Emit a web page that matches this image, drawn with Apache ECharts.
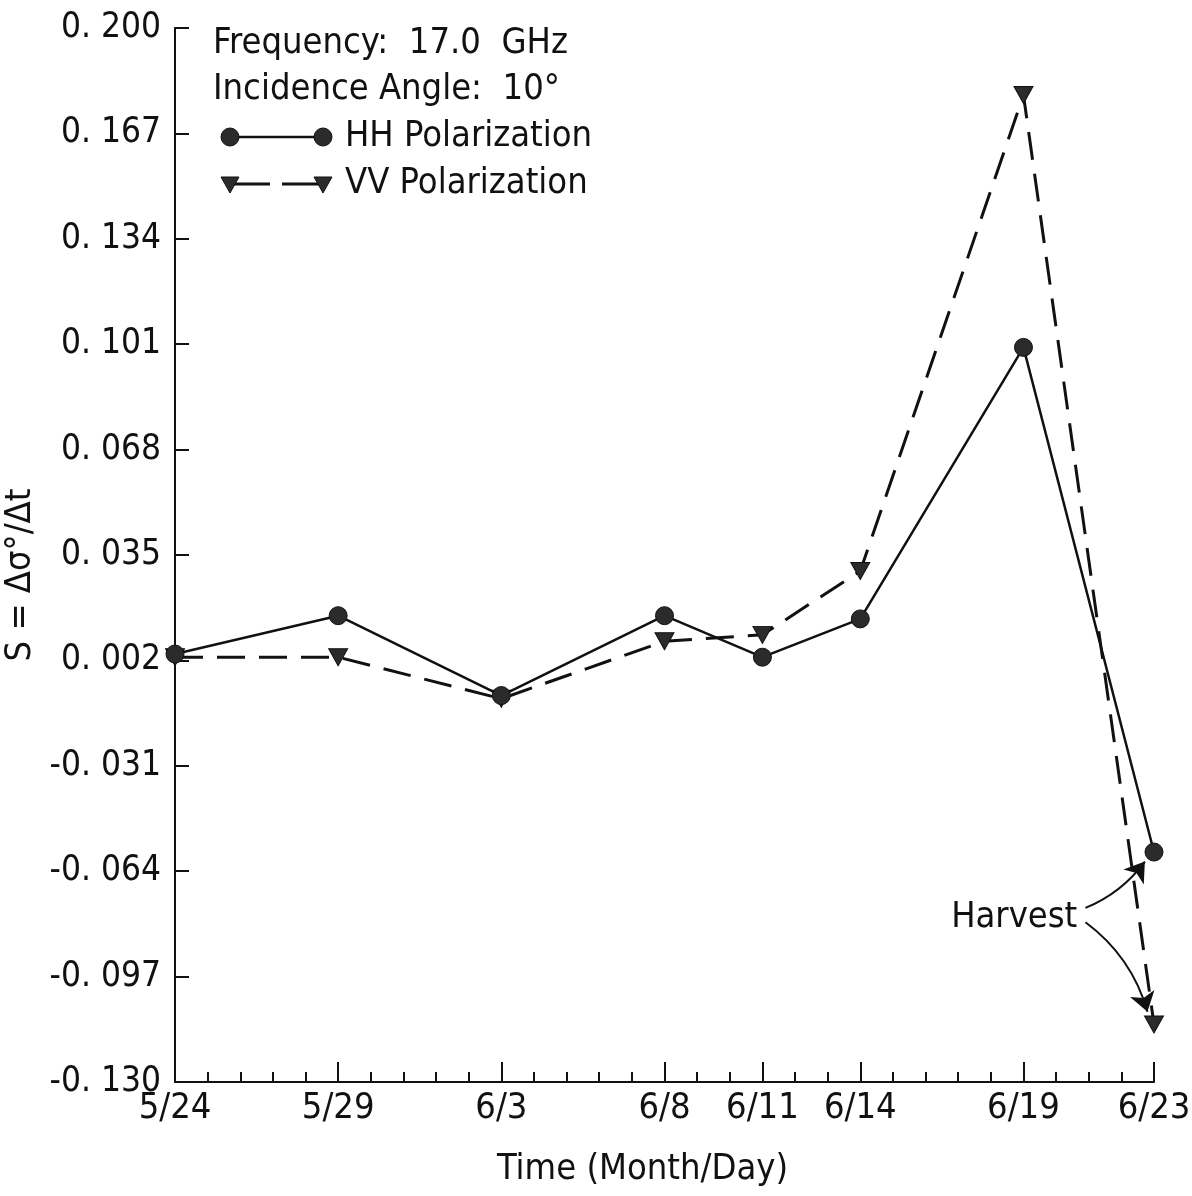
<!DOCTYPE html>
<html>
<head>
<meta charset="utf-8">
<script src="https://cdn.jsdelivr.net/npm/echarts@6/dist/echarts.min.js"></script>
<style>
  html, body { margin: 0; padding: 0; background: #ffffff; }
  #chart { width: 1192px; height: 1196px; }
</style>
</head>
<body>
<div id="chart"></div>
<script>
// Measurement dates as day offsets from 5/24, with their labels
const dayOffsets = [0, 5, 10, 15, 18, 21, 26, 30];
const dateLabels = ['5/24', '5/29', '6/3', '6/8', '6/11', '6/14', '6/19', '6/23'];

// Backscatter slope S = Δσ°/Δt at each date
const hhValues = [0.004, 0.016, -0.009, 0.016, 0.003, 0.015, 0.100, -0.058];
const vvValues = [0.003, 0.003, -0.010, 0.008, 0.010, 0.030, 0.179, -0.112];

// Labelled ticks on the S axis
const yTicks = [-0.130, -0.097, -0.064, -0.031, 0.002, 0.035, 0.068, 0.101, 0.134, 0.167, 0.200];

// "Harvest" note: text anchor and arrow ends, in (day, S) units
const harvestText = [27.65, -0.0785];
const harvestArrowHH = [[27.9, -0.0755], [29.72, -0.0610]];
const harvestArrowVV = [[27.9, -0.0800], [29.80, -0.1080]];

const FONT = "'DejaVu Sans Condensed', 'Liberation Sans Narrow', 'Liberation Sans', sans-serif";
const INK = '#111111';
const MARK = '#2b2b2b';

const hhData = dayOffsets.map((d, i) => [d, hhValues[i]]);
const vvData = dayOffsets.map((d, i) => [d, vvValues[i]]);

function fmtS(v) {
  const s = Math.abs(v).toFixed(3).split('.');
  return (v < 0 ? '-' : '') + s[0] + '. ' + s[1];
}

// Curved pointer from the "Harvest" note to a final-date marker
function harvestArrow(ends, curveness) {
  return {
    type: 'lines', coordinateSystem: 'cartesian2d', xAxisIndex: 0, yAxisIndex: 0,
    silent: true, z: 4,
    symbol: ['none', 'arrow'], symbolSize: 19,
    lineStyle: { color: INK, width: 2, type: 'solid', opacity: 1, curveness: curveness },
    effect: { show: false },
    data: [{ coords: [ends[0], ends[1]] }]
  };
}

const chart = echarts.init(document.getElementById('chart'), null, { renderer: 'canvas' });

chart.setOption({
  backgroundColor: '#ffffff',
  animation: false,
  grid: { left: 175, right: 38, top: 28, bottom: 114, containLabel: false, outerBoundsMode: 'none' },
  xAxis: [
    {
      type: 'value', min: 0, max: 30, position: 'bottom',
      name: 'Time (Month/Day)', nameLocation: 'middle', nameGap: 70,
      nameTextStyle: { fontFamily: FONT, fontSize: 36, color: INK, padding: [0, 44, 0, 0] },
      axisLine: { show: true, onZero: false, lineStyle: { color: INK, width: 2 } },
      axisTick: { show: true, inside: true, length: 20, customValues: dayOffsets, lineStyle: { color: INK, width: 2 } },
      axisLabel: {
        show: true, customValues: dayOffsets, margin: 9,
        fontFamily: FONT, fontSize: 36, color: INK,
        formatter: v => dateLabels[dayOffsets.indexOf(Math.round(v))] || ''
      },
      splitLine: { show: false }
    },
    {
      type: 'value', min: 0, max: 30, interval: 1, position: 'bottom',
      axisLine: { show: false, onZero: false },
      axisTick: { show: true, inside: true, length: 10, lineStyle: { color: INK, width: 2 } },
      axisLabel: { show: false },
      splitLine: { show: false }
    }
  ],
  yAxis: {
    type: 'value', min: -0.130, max: 0.200,
    name: 'S = Δσ°/Δt', nameLocation: 'middle', nameGap: 128, nameRotate: 90,
    nameTextStyle: { fontFamily: FONT, fontSize: 36, color: INK, padding: [0, 40, 0, 0] },
    axisLine: { show: true, onZero: false, lineStyle: { color: INK, width: 2 } },
    axisTick: { show: true, inside: true, length: 14, customValues: yTicks, lineStyle: { color: INK, width: 2 } },
    axisLabel: {
      show: true, customValues: yTicks, margin: 14,
      fontFamily: FONT, fontSize: 35, color: INK,
      formatter: v => fmtS(v)
    },
    splitLine: { show: false }
  },
  series: [
    {
      name: 'HH Polarization', type: 'line', xAxisIndex: 0, data: hhData,
      symbol: 'circle', symbolSize: 18,
      itemStyle: { color: MARK, borderColor: INK, borderWidth: 1 },
      lineStyle: { color: INK, width: 2.5, type: 'solid' },
      z: 3,
      markPoint: {
        silent: true,
        data: [{
          coord: harvestText, symbol: 'circle', symbolSize: 0,
          label: { show: true, position: 'left', distance: 0, formatter: 'Harvest', fontFamily: FONT, fontSize: 36, color: INK }
        }]
      }
    },
    {
      name: 'VV Polarization', type: 'line', xAxisIndex: 0, data: vvData,
      symbol: 'triangle', symbolRotate: 180, symbolSize: [19, 17],
      itemStyle: { color: MARK, borderColor: INK, borderWidth: 1 },
      lineStyle: { color: INK, width: 3, type: [28, 14] },
      z: 2
    },
    harvestArrow(harvestArrowHH, -0.14),
    harvestArrow(harvestArrowVV, 0.17)
  ],
  graphic: [
    { type: 'text', left: 213, top: 26, style: { text: 'Frequency:  17.0  GHz', font: '36px ' + FONT, fill: INK } },
    { type: 'text', left: 213, top: 72, style: { text: 'Incidence Angle:  10°', font: '36px ' + FONT, fill: INK } },
    { type: 'line', shape: { x1: 230, y1: 137, x2: 323, y2: 137 }, style: { stroke: INK, lineWidth: 2.5 } },
    { type: 'circle', shape: { cx: 230, cy: 137, r: 9 }, style: { fill: MARK, stroke: INK } },
    { type: 'circle', shape: { cx: 323, cy: 137, r: 9 }, style: { fill: MARK, stroke: INK } },
    { type: 'text', left: 345, top: 119, style: { text: 'HH Polarization', font: '36px ' + FONT, fill: INK } },
    { type: 'line', shape: { x1: 230, y1: 184, x2: 323, y2: 184 }, style: { stroke: INK, lineWidth: 3, lineDash: [40, 12] } },
    { type: 'polygon', shape: { points: [[221, 177], [239, 177], [230, 193]] }, style: { fill: MARK, stroke: INK } },
    { type: 'polygon', shape: { points: [[314, 177], [332, 177], [323, 193]] }, style: { fill: MARK, stroke: INK } },
    { type: 'text', left: 345, top: 166, style: { text: 'VV Polarization', font: '36px ' + FONT, fill: INK } }
  ]
});
</script>
</body>
</html>
